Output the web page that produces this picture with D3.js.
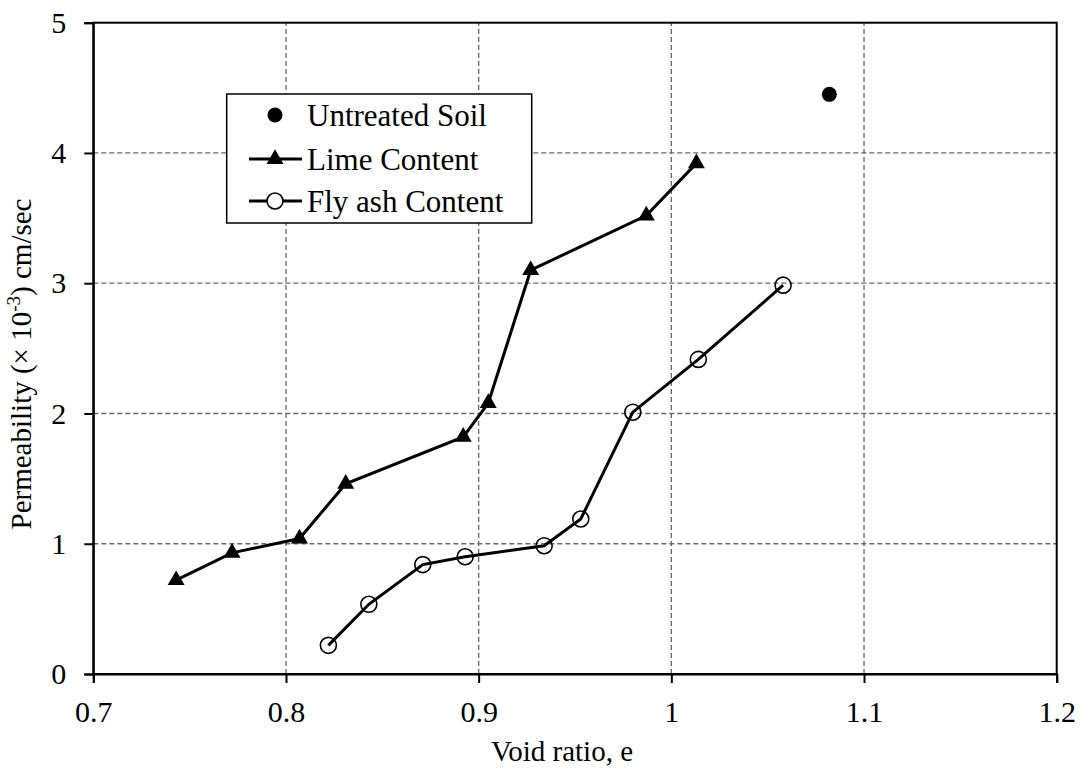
<!DOCTYPE html>
<html>
<head>
<meta charset="utf-8">
<script src="https://cdn.jsdelivr.net/npm/d3@7"></script>
<style>
  html, body { margin: 0; padding: 0; background: #fff; }
  svg { display: block; }
  text { font-family: "Liberation Serif", "Times New Roman", Times, serif; fill: #000; }
</style>
</head>
<body>
<svg id="chart" width="1084" height="772"></svg>
<script>
// ---- Data ----
const untreatedX = [1.082];
const untreatedY = [4.45];

const limeX = [0.743, 0.772, 0.807, 0.831, 0.892, 0.905, 0.927, 0.987, 1.013];
const limeY = [0.72, 0.93, 1.04, 1.46, 1.82, 2.08, 3.10, 3.52, 3.92];

const flyX = [0.822, 0.843, 0.871, 0.893, 0.934, 0.953, 0.980, 1.014, 1.058];
const flyY = [0.22, 0.535, 0.84, 0.90, 0.985, 1.19, 2.01, 2.415, 2.985];

const xTicks = [0.7, 0.8, 0.9, 1.0, 1.1, 1.2];
const xTickLabels = ["0.7", "0.8", "0.9", "1", "1.1", "1.2"];
const yTicks = [0, 1, 2, 3, 4, 5];
const yTickLabels = ["0", "1", "2", "3", "4", "5"];

const legendLabels = ["Untreated Soil", "Lime Content", "Fly ash Content"];

// ---- Layout ----
const W = 1084, H = 772;
const m = { left: 93.3, right: 27.3, top: 22.7, bottom: 98 };
const FONT = "Liberation Serif, Times New Roman, serif";
const svg = d3.select("#chart");
svg.append("rect").attr("width", W).attr("height", H).attr("fill", "#fff");

const x = d3.scaleLinear().domain([0.7, 1.2]).range([m.left, W - m.right]);
const y = d3.scaleLinear().domain([0, 5]).range([H - m.bottom, m.top]);

// gridlines
const grid = svg.append("g");
grid.selectAll("line.gx").data(xTicks.slice(1, -1)).enter().append("line")
  .attr("x1", d => x(d)).attr("x2", d => x(d))
  .attr("y1", y(0)).attr("y2", y(5))
  .attr("stroke", "#686868").attr("stroke-width", 1.3).attr("stroke-dasharray", "5,3");
grid.selectAll("line.gy").data(yTicks.slice(1, -1)).enter().append("line")
  .attr("y1", d => y(d)).attr("y2", d => y(d))
  .attr("x1", x(0.7)).attr("x2", x(1.2))
  .attr("stroke", "#686868").attr("stroke-width", 1.3).attr("stroke-dasharray", "5,3");

// frame
svg.append("rect").attr("x", x(0.7)).attr("y", y(5))
  .attr("width", x(1.2) - x(0.7)).attr("height", y(0) - y(5))
  .attr("fill", "none").attr("stroke", "#000").attr("stroke-width", 2);

// axes
const xAxis = svg.append("g").attr("transform", `translate(0,${y(0)})`)
  .call(d3.axisBottom(x).tickValues(xTicks).tickFormat((d, i) => xTickLabels[i]).tickSize(9).tickPadding(18));
const yAxis = svg.append("g").attr("transform", `translate(${x(0.7)},0)`)
  .call(d3.axisLeft(y).tickValues(yTicks).tickFormat((d, i) => yTickLabels[i]).tickSize(9).tickPadding(18));
[xAxis, yAxis].forEach(g => {
  g.attr("font-family", FONT);
  g.select(".domain").attr("stroke", "#000").attr("stroke-width", 2);
  g.selectAll(".tick line").attr("stroke", "#000").attr("stroke-width", 2);
  g.selectAll(".tick text").attr("font-family", FONT).attr("font-size", 30).attr("fill", "#000");
});
xAxis.selectAll(".tick text").attr("dy", "0.71em");

// axis titles
svg.append("text").attr("x", 562).attr("y", 761)
  .attr("text-anchor", "middle").attr("font-size", 29).text("Void ratio, e");

const yt = svg.append("text")
  .attr("transform", `translate(31,364) rotate(-90)`)
  .attr("text-anchor", "middle").attr("font-size", 29);
yt.append("tspan").text("Permeability (\u00d7 10");
yt.append("tspan").attr("font-size", 19).attr("dy", -11).text("-3");
yt.append("tspan").attr("dy", 11).text(") cm/sec");

// series
const limeData = limeX.map((v, i) => [v, limeY[i]]);
const flyData = flyX.map((v, i) => [v, flyY[i]]);
const line = d3.line().x(d => x(d[0])).y(d => y(d[1]));

svg.append("path").datum(limeData).attr("d", line)
  .attr("fill", "none").attr("stroke", "#000").attr("stroke-width", 3);
svg.append("path").datum(flyData).attr("d", line)
  .attr("fill", "none").attr("stroke", "#000").attr("stroke-width", 3);

const tri = d3.symbol().type(d3.symbolTriangle).size(125);
svg.selectAll("path.tri").data(limeData).enter().append("path")
  .attr("transform", d => `translate(${x(d[0])},${y(d[1])})`)
  .attr("d", tri).attr("fill", "#000");

svg.selectAll("circle.fly").data(flyData).enter().append("circle")
  .attr("cx", d => x(d[0])).attr("cy", d => y(d[1])).attr("r", 8)
  .attr("fill", "none").attr("stroke", "#000").attr("stroke-width", 1.6);

svg.selectAll("circle.unt").data(untreatedX.map((v, i) => [v, untreatedY[i]])).enter().append("circle")
  .attr("cx", d => x(d[0])).attr("cy", d => y(d[1])).attr("r", 7.5)
  .attr("fill", "#000");

// legend
const lg = svg.append("g");
lg.append("rect").attr("x", 226.7).attr("y", 94).attr("width", 305).attr("height", 129)
  .attr("fill", "#fff").attr("stroke", "#000").attr("stroke-width", 1.5);
const rowsY = [115, 159, 201];
lg.append("circle").attr("cx", 275).attr("cy", rowsY[0]).attr("r", 7.5).attr("fill", "#000");
lg.append("line").attr("x1", 249).attr("x2", 302).attr("y1", rowsY[1]).attr("y2", rowsY[1])
  .attr("stroke", "#000").attr("stroke-width", 3);
lg.append("path").attr("transform", `translate(275,${rowsY[1]})`).attr("d", tri).attr("fill", "#000");
lg.append("line").attr("x1", 249).attr("x2", 302).attr("y1", rowsY[2]).attr("y2", rowsY[2])
  .attr("stroke", "#000").attr("stroke-width", 3);
lg.append("circle").attr("cx", 275).attr("cy", rowsY[2]).attr("r", 8)
  .attr("fill", "#fff").attr("stroke", "#000").attr("stroke-width", 1.6);
lg.selectAll("text.lt").data(legendLabels).enter().append("text")
  .attr("x", 307).attr("y", (d, i) => rowsY[i]).attr("dy", "0.35em")
  .attr("font-size", 31).text(d => d);
</script>
</body>
</html>
